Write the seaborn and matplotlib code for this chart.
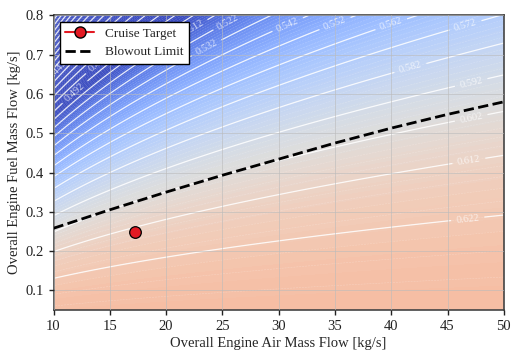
import numpy as np
import matplotlib
matplotlib.use("Agg")
import matplotlib.pyplot as plt
import seaborn as sns
import pandas as pd
from matplotlib.lines import Line2D
from matplotlib.colors import Normalize

sns.set_theme(style="white")
plt.rcParams['font.family'] = ['Liberation Serif', 'DejaVu Serif']

# Operating envelope
air_range = [10, 50]      # kg/s
fuel_range = [0.05, 0.8]  # kg/s

# Combustor efficiency model: eta = eta_max - k * fuel^2 / air
eta_max = 0.6296
k_loading = 4.47

# Lean blowout boundary
blowout_air = [10, 15, 20, 25, 30, 35, 40, 45, 50]
blowout_fuel = [0.258, 0.305, 0.350, 0.393, 0.434, 0.475, 0.513, 0.548, 0.580]

# Cruise operating point
cruise_air = [17.2]
cruise_fuel = [0.248]

# Contour levels
major_levels = np.round(np.arange(0.342, 0.630, 0.010), 3)
minor_levels = np.round(np.arange(0.342, 0.630, 0.002), 3)

# Air flow at which each labelled contour carries its label
label_levels = [0.442, 0.482, 0.492, 0.502, 0.512, 0.522, 0.532, 0.542,
                0.552, 0.562, 0.572, 0.582, 0.592, 0.602, 0.612, 0.622]
label_air = [10.4, 14.0, 11.9, 20.0, 22.4, 25.5, 23.6, 30.8,
             35.0, 40.0, 46.6, 41.7, 47.1, 47.1, 46.9, 46.8]

air = np.linspace(air_range[0], air_range[1], 300)
fuel = np.linspace(fuel_range[0], fuel_range[1], 300)
A, F = np.meshgrid(air, fuel)
eta = eta_max - k_loading * F**2 / A

fig, ax = plt.subplots(figsize=(5.12, 3.51), dpi=100)
fig.subplots_adjust(left=0.1045, right=0.984, top=0.956, bottom=0.117)

norm = Normalize(vmin=0.50, vmax=0.70)
ax.contourf(A, F, eta, levels=200, cmap="coolwarm", norm=norm, zorder=0)
ax.contour(A, F, eta, levels=minor_levels, colors="white", linewidths=0.4,
           linestyles="--", alpha=0.25, zorder=1)

major_style = dict(colors="white", linewidths=0.9, alpha=0.85, zorder=1)
plain_levels = [lv for lv in major_levels if lv not in label_levels]
ax.contour(A, F, eta, levels=plain_levels, **major_style)
cs = ax.contour(A, F, eta, levels=label_levels, **major_style)

# Label positions sit on the contour of the same efficiency
lab_lv = np.array(label_levels)
lab_x = np.array(label_air)
lab_y = np.sqrt((eta_max - lab_lv) * lab_x / k_loading)
ax.clabel(cs, fmt="%.3f", fontsize=7.5, inline=True,
          manual=list(zip(lab_x, lab_y)))
for t in ax.texts:
    t.set_alpha(0.75)

blow_df = pd.DataFrame({"air": blowout_air, "fuel": blowout_fuel})
sns.lineplot(data=blow_df, x="air", y="fuel", ax=ax, color="black",
             linestyle="--", linewidth=2, zorder=4)
cruise_df = pd.DataFrame({"air": cruise_air, "fuel": cruise_fuel})
sns.scatterplot(data=cruise_df, x="air", y="fuel", ax=ax, color="#e31a23",
                edgecolor="black", linewidth=0.9, s=70, zorder=5)

ax.set_xlim(air_range)
ax.set_ylim(fuel_range)
ax.set_xlabel("Overall Engine Air Mass Flow [kg/s]", fontsize=10.5, labelpad=3)
ax.set_ylabel("Overall Engine Fuel Mass Flow [kg/s]", fontsize=10.5, labelpad=3)
ax.tick_params(labelsize=10.5, direction="out", length=3.5, width=1,
               left=True, bottom=True, colors="#222222")
ax.set_axisbelow(False)
ax.grid(True, color="#bbbbbb", alpha=0.6, linewidth=0.7, zorder=3)
for s in ax.spines.values():
    s.set_color("#444444")
    s.set_linewidth(1.2)

handles = [
    Line2D([0], [0], color="#e31a23", marker="o", markerfacecolor="#e31a23",
           markeredgecolor="black", markersize=8, linewidth=1.5,
           label="Cruise Target"),
    Line2D([0], [0], color="black", linestyle="--", linewidth=2,
           label="Blowout Limit"),
]
leg = ax.legend(handles=handles, loc="upper left", fontsize=9.5,
                frameon=True, fancybox=False, framealpha=1,
                edgecolor="black", borderpad=0.4, handlelength=2.2)
leg.get_frame().set_linewidth(1.0)
leg.set_zorder(10)

fig.savefig("out.png", dpi=100)
